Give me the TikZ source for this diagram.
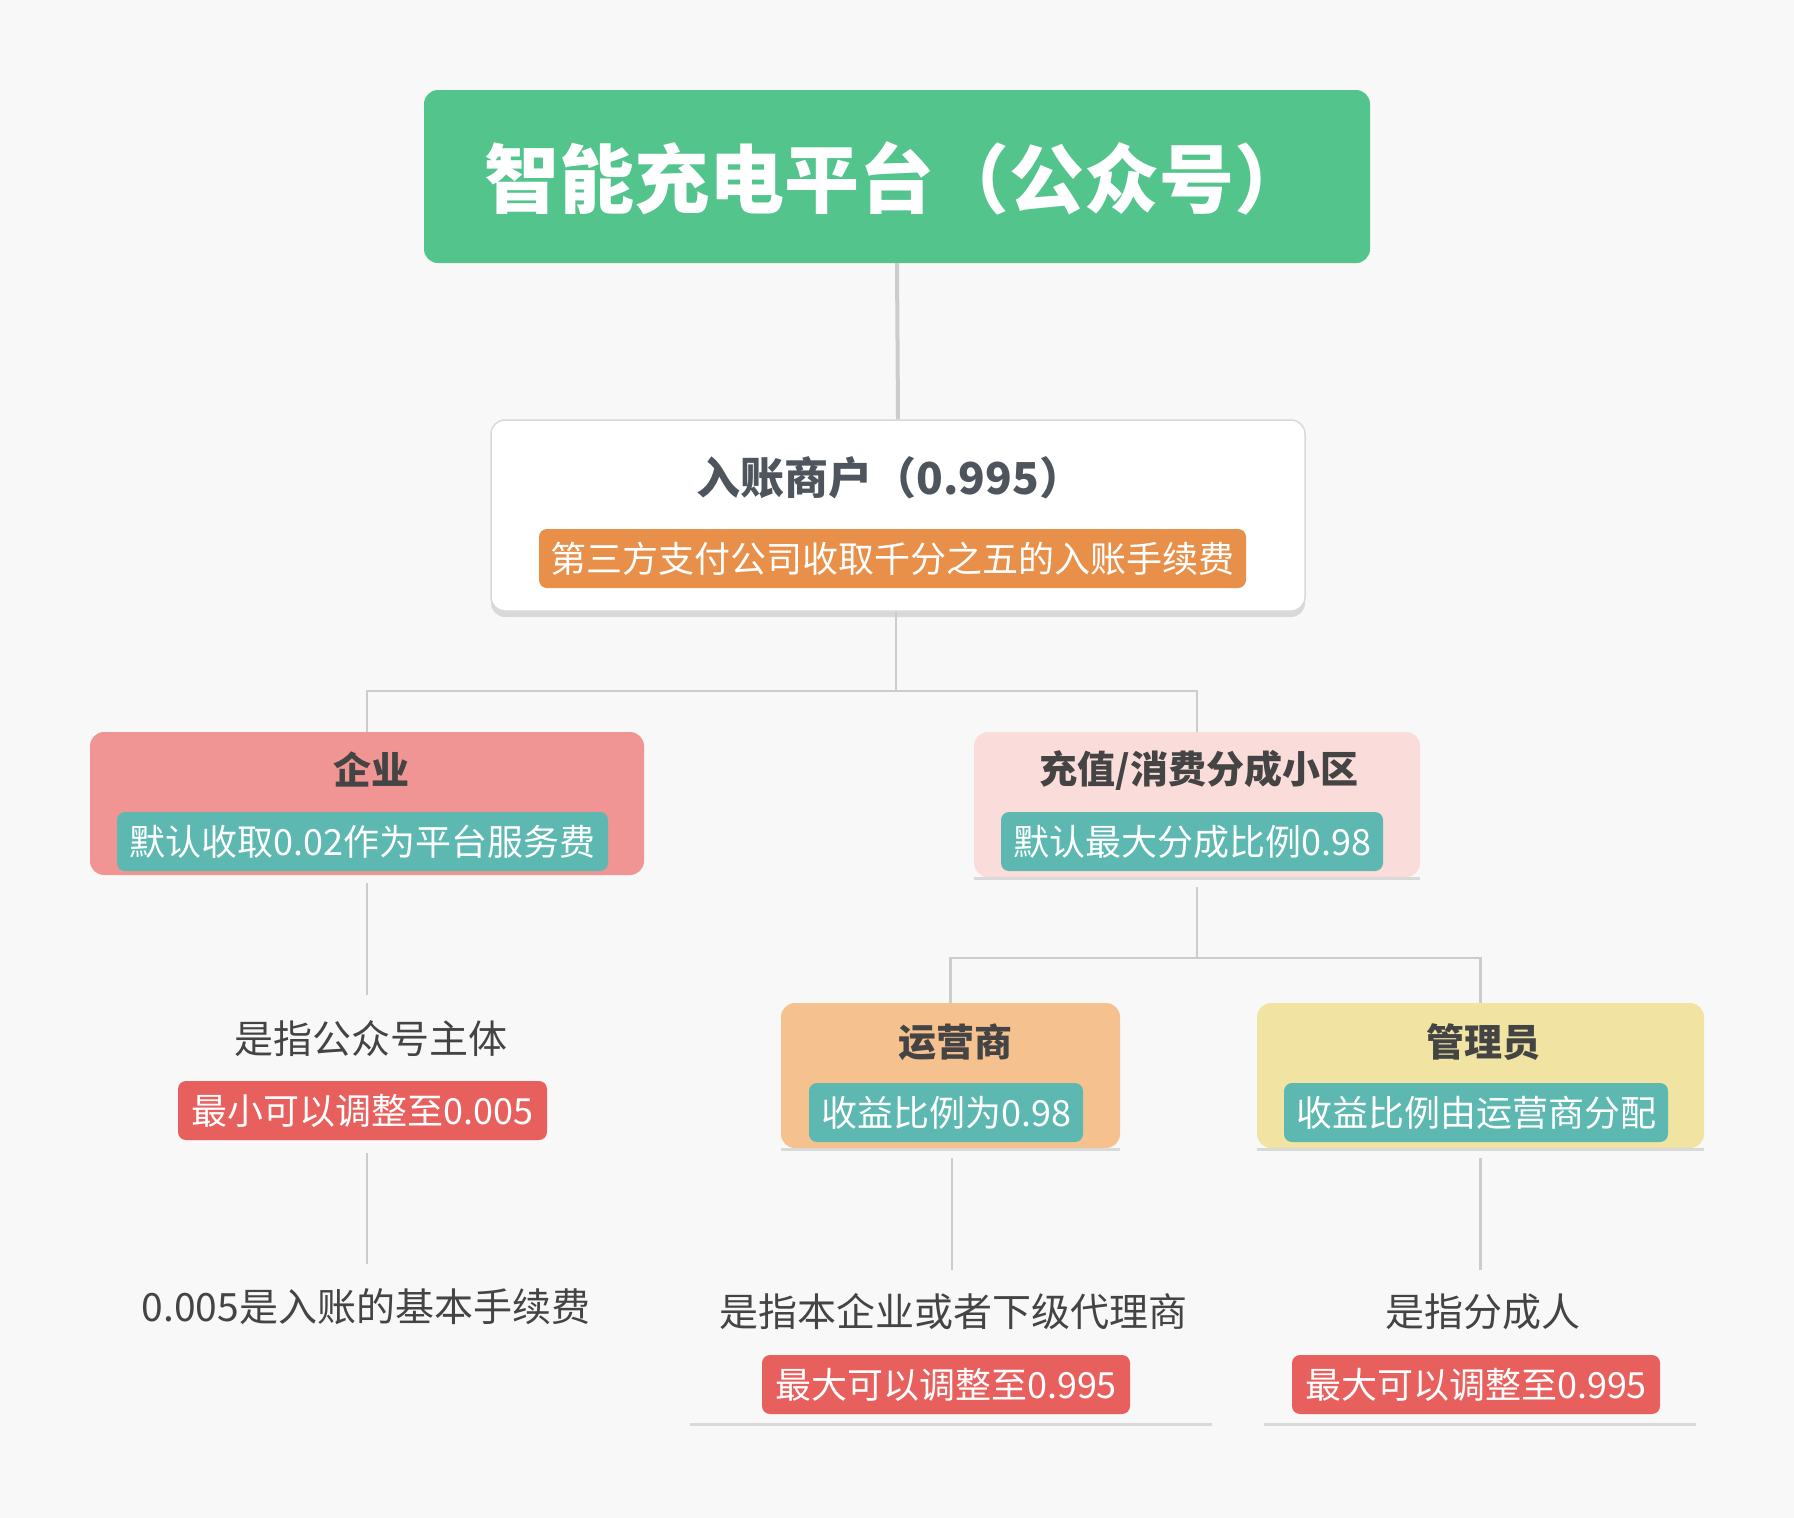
\documentclass[tikz,border=0pt]{standalone}
\usepackage{fontspec}
\setmainfont{Noto Sans CJK SC}
\usetikzlibrary{shadows}
\definecolor{bgc}{HTML}{F8F8F8}
\definecolor{titlegreen}{HTML}{52C48C}
\definecolor{orangelab}{HTML}{E8904A}
\definecolor{tealab}{HTML}{5CB8B0}
\definecolor{redlab}{HTML}{E8605E}
\definecolor{qiyec}{HTML}{F09593}
\definecolor{chongc}{HTML}{FADCDA}
\definecolor{yysc}{HTML}{F5C28F}
\definecolor{glyc}{HTML}{F1E4A2}
\definecolor{linec}{HTML}{CCCCCC}
\definecolor{shadc}{HTML}{D9D9D9}
\definecolor{darktext}{HTML}{444444}
\definecolor{mtext}{HTML}{4F555C}
\begin{document}
\begin{tikzpicture}[x=1pt,y=-1pt,
  box/.style={rounded corners=14pt, inner sep=0pt, anchor=center},
  boxtitle/.style={font=\fontsize{38}{40}\selectfont\bfseries, text=darktext, inner sep=0pt, anchor=center},
  lab/.style={rounded corners=8pt, inner sep=0pt, minimum height=59pt, text=white, font=\fontsize{36}{38}\selectfont, anchor=center},
  desc/.style={font=\fontsize{39}{41}\selectfont, text=darktext, inner sep=0pt, anchor=center},
  conn/.style={draw=linec, line width=2.5pt},
  shline/.style={draw=shadc, line width=3pt}
]
\fill[bgc] (0,0) rectangle (1794,1518);
\useasboundingbox (0,0) rectangle (1794,1518);

% top title
\node[box, fill=titlegreen, minimum width=946pt, minimum height=173pt] (title) at (897,176.5) {};
\node[font=\fontsize{75}{78}\selectfont\bfseries, text=white, inner sep=0pt] (titletext) at (897,178) {智能充电平台（公众号）};

% merchant box
\node[box, fill=white, draw=shadc, line width=1.5pt, minimum width=814pt, minimum height=191pt,
  general shadow={shadow yshift=-6pt, fill=shadc}] (merchant) at (898,515.5) {};
\node[font=\fontsize{44}{46}\selectfont\bfseries, text=mtext, inner sep=0pt] (mtitle) at (890,478) {入账商户（0.995）};
\node[lab, fill=orangelab, minimum width=707pt] (mlab) at (892.5,558.5) {第三方支付公司收取千分之五的入账手续费};

% qiye
\node[box, fill=qiyec, minimum width=554pt, minimum height=143pt] (qiye) at (367,803.5) {};
\node[boxtitle] (qtitle) at (371.5,769) {企业};
\node[lab, fill=tealab, minimum width=491pt] (qlab) at (362.5,841.5) {默认收取0.02作为平台服务费};

% chong
\node[box, fill=chongc, minimum width=446pt, minimum height=145pt] (chong) at (1197,804.5) {};
\draw[shline] ([yshift=-1.5pt]chong.south west) -- ([yshift=-1.5pt]chong.south east);
\node[boxtitle] (ctitle) at (1199,770) {充值/消费分成小区};
\node[lab, fill=tealab, minimum width=382pt] (clab) at (1192,841.5) {默认最大分成比例0.98};

% yunyingshang
\node[box, fill=yysc, minimum width=339pt, minimum height=145pt] (yys) at (950.5,1075.5) {};
\draw[shline] ([yshift=-1.5pt]yys.south west) -- ([yshift=-1.5pt]yys.south east);
\node[boxtitle] (ytitle) at (955,1042) {运营商};
\node[lab, fill=tealab, minimum width=274pt] (ylab) at (946,1112.5) {收益比例为0.98};

% guanliyuan
\node[box, fill=glyc, minimum width=447pt, minimum height=145pt] (gly) at (1480.5,1075.5) {};
\draw[shline] ([yshift=-1.5pt]gly.south west) -- ([yshift=-1.5pt]gly.south east);
\node[boxtitle] (gtitle) at (1483,1042) {管理员};
\node[lab, fill=tealab, minimum width=384pt] (glab) at (1476,1112.5) {收益比例由运营商分配};

% descriptions
\node[desc] (qdesc) at (371,1039) {是指公众号主体};
\node[lab, fill=redlab, minimum width=369pt] (qred) at (362.5,1110.5) {最小可以调整至0.005};
\node[desc] (qdesc2) at (366,1307) {0.005是入账的基本手续费};

\node[desc] (ydesc) at (953,1312) {是指本企业或者下级代理商};
\node[lab, fill=redlab, minimum width=368pt] (yred) at (946,1384.5) {最大可以调整至0.995};
\draw[shline] (690,1424) -- (1212,1424);

\node[desc] (gdesc) at (1483,1312) {是指分成人};
\node[lab, fill=redlab, minimum width=368pt] (gred) at (1476,1384.5) {最大可以调整至0.995};
\draw[shline] (1264,1424) -- (1696,1424);

% connectors
\draw[conn, line width=4pt] (title.south) -- (merchant.north);
\coordinate (j1) at (896,691);
\draw[conn] (merchant.south) ++(-2,0) coordinate (ms) -- (j1);
\draw[conn] (j1) -| (qiye.north);
\draw[conn] (j1) -| (chong.north);
\coordinate (j2) at (1197,958);
\draw[conn, shorten <=10pt] (chong.south) -- (j2);
\draw[conn] (j2) -| (yys.north);
\draw[conn] (j2) -| (gly.north);

\draw[conn, shorten <=8pt, shorten >=44pt] (qiye.south) -- (qiye.south |- qdesc.center);
\draw[conn, shorten <=13pt, shorten >=43pt] (qiye.south |- qred.south) -- (qiye.south |- qdesc2.center);
\draw[conn, shorten <=10pt, shorten >=42pt] ([xshift=1.5pt]yys.south) -- ([xshift=1.5pt]yys.south |- ydesc.center);
\draw[conn, shorten <=10pt, shorten >=42pt] (gly.south) -- (gly.south |- gdesc.center);
\end{tikzpicture}
\end{document}
